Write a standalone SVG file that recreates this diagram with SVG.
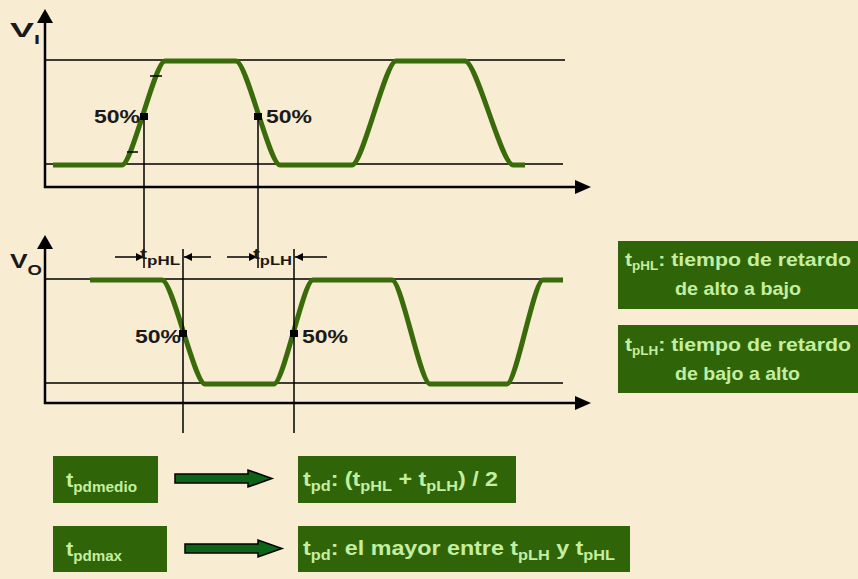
<svg xmlns="http://www.w3.org/2000/svg" width="858" height="579" viewBox="0 0 858 579">
<defs>
<style>
.bg{fill:#f8ecd2}
.ln{stroke:#000;stroke-width:1.5;fill:none}
.ax{stroke:#000;stroke-width:2.5;fill:none}
.wave{stroke:#3a6b0a;stroke-width:5;fill:none;stroke-linejoin:round}
.lbl{font-family:"Liberation Sans",Arial,sans-serif;font-weight:bold;fill:#1a1a1a}
.box{fill:#2f6508}
.bt{font-family:"Liberation Sans",Arial,sans-serif;font-weight:bold;fill:#c4eea0}
.mk{fill:#000}
.garrow{fill:#0c6416;stroke:#000;stroke-width:1.5}
</style>
<marker id="ah" viewBox="0 0 10 10" refX="10" refY="5" markerWidth="10" markerHeight="8" markerUnits="userSpaceOnUse" orient="auto">
<path d="M0,0 L10,5 L0,10 Z" fill="#000"/>
</marker>
</defs>
<rect class="bg" x="0" y="0" width="858" height="579"/>

<g id="input-axes">
<line class="ax" x1="45" y1="188" x2="45" y2="22"/>
<path d="M45,9 L53,23 L37,23 Z" fill="#000"/>
<line class="ax" x1="44" y1="187" x2="577" y2="187"/>
<path d="M591,187 L575,180 L575,194 Z" fill="#000"/>
<line class="ln" x1="45" y1="60" x2="565" y2="60"/>
<line class="ln" x1="45" y1="164" x2="563" y2="164"/>
<text class="lbl" x="10" y="37" font-size="20" textLength="30" lengthAdjust="spacingAndGlyphs">V<tspan font-size="12" dy="7">I</tspan></text>
</g>

<g id="input-wave">
<path class="wave" d="M53,165 L122,165 C132,165 155,61 165,61 L236,61 C246.5,61 269.5,165 280,165 L352,165 C362.5,165 385.5,61 396,61 L465,61 C476.5,61 501.5,165 513,165 L525,165"/>
<line class="ln" x1="150" y1="76" x2="162" y2="76"/>
<line class="ln" x1="127" y1="152" x2="138" y2="152"/>
<rect class="mk" x="140" y="113" width="8" height="7"/>
<rect class="mk" x="254" y="113" width="8" height="7"/>
<text class="lbl" x="94" y="123" font-size="19" textLength="46" lengthAdjust="spacingAndGlyphs">50%</text>
<text class="lbl" x="266" y="123" font-size="19" textLength="46" lengthAdjust="spacingAndGlyphs">50%</text>
</g>

<g id="output-axes">
<line class="ax" x1="45" y1="404" x2="45" y2="248"/>
<path d="M45,235 L53,249 L37,249 Z" fill="#000"/>
<line class="ax" x1="44" y1="403" x2="577" y2="403"/>
<path d="M591,403 L575,396 L575,410 Z" fill="#000"/>
<line class="ln" x1="45" y1="279" x2="563" y2="279"/>
<line class="ln" x1="45" y1="383" x2="563" y2="383"/>
<text class="lbl" x="10" y="268" font-size="20" textLength="32" lengthAdjust="spacingAndGlyphs">V<tspan font-size="14" dy="7">O</tspan></text>
</g>

<g id="output-wave">
<path class="wave" d="M90,280 L162,280 C172.5,280 194.5,384 205,384 L274,384 C283.5,384 303.5,280 313,280 L392,280 C401.5,280 420.5,384 430,384 L507,384 C516,384 534,280 543,280 L563,280"/>
<rect class="mk" x="179" y="330" width="8" height="7"/>
<rect class="mk" x="290" y="330" width="8" height="7"/>
<text class="lbl" x="135" y="343" font-size="19" textLength="46" lengthAdjust="spacingAndGlyphs">50%</text>
<text class="lbl" x="302" y="343" font-size="19" textLength="46" lengthAdjust="spacingAndGlyphs">50%</text>
</g>

<g id="connectors">
<line class="ln" x1="144" y1="117" x2="144" y2="268"/>
<line class="ln" x1="258" y1="117" x2="258" y2="268"/>
<line class="ln" x1="183" y1="249" x2="183" y2="433"/>
<line class="ln" x1="294" y1="249" x2="294" y2="433"/>
<line class="ln" x1="115" y1="257" x2="144" y2="257" marker-end="url(#ah)"/>
<line class="ln" x1="211" y1="257" x2="184" y2="257" marker-end="url(#ah)"/>
<line class="ln" x1="227" y1="257" x2="257" y2="257" marker-end="url(#ah)"/>
<line class="ln" x1="327" y1="257" x2="295" y2="257" marker-end="url(#ah)"/>
<path class="garrow" d="M175,474 L248,474 L248,470 L272,478.5 L248,487 L248,483 L175,483 Z"/>
<path class="garrow" d="M185,544 L258,544 L258,540 L282,548.5 L258,557 L258,553 L185,553 Z"/>
</g>

<g id="tphl-label">
<text class="lbl" x="140" y="259" font-size="15" textLength="40" lengthAdjust="spacingAndGlyphs">t<tspan font-size="12" dy="6">pHL</tspan></text>
</g>
<g id="tplh-label">
<text class="lbl" x="253" y="259" font-size="15" textLength="39" lengthAdjust="spacingAndGlyphs">t<tspan font-size="12" dy="6">pLH</tspan></text>
</g>

<g id="def-tphl">
<rect class="box" x="618" y="241" width="240" height="68"/>
<text class="bt" x="625" y="266" font-size="19" textLength="226" lengthAdjust="spacingAndGlyphs">t<tspan font-size="12" dy="4">pHL</tspan><tspan dy="-4">: tiempo de retardo</tspan></text>
<text class="bt" x="675" y="295" font-size="19" textLength="126" lengthAdjust="spacingAndGlyphs">de alto a bajo</text>
</g>

<g id="def-tplh">
<rect class="box" x="618" y="325" width="240" height="68"/>
<text class="bt" x="625" y="351" font-size="19" textLength="226" lengthAdjust="spacingAndGlyphs">t<tspan font-size="12" dy="4">pLH</tspan><tspan dy="-4">: tiempo de retardo</tspan></text>
<text class="bt" x="675" y="380" font-size="19" textLength="125" lengthAdjust="spacingAndGlyphs">de bajo a alto</text>
</g>

<g id="tpdmedio">
<rect class="box" x="53" y="456" width="105" height="47"/>
<text class="bt" x="66" y="487" font-size="20" textLength="71" lengthAdjust="spacingAndGlyphs">t<tspan font-size="14" dy="5">pdmedio</tspan></text>
</g>

<g id="tpdmax">
<rect class="box" x="53" y="526" width="114" height="46"/>
<text class="bt" x="66" y="556" font-size="20" textLength="56" lengthAdjust="spacingAndGlyphs">t<tspan font-size="14" dy="5">pdmax</tspan></text>
</g>

<g id="tpd-avg">
<rect class="box" x="298" y="456" width="218" height="47"/>
<text class="bt" x="303" y="486" font-size="20" textLength="195" lengthAdjust="spacingAndGlyphs">t<tspan font-size="14" dy="5">pd</tspan><tspan dy="-5">: (t</tspan><tspan font-size="14" dy="5">pHL</tspan><tspan dy="-5"> + t</tspan><tspan font-size="14" dy="5">pLH</tspan><tspan dy="-5">) / 2</tspan></text>
</g>

<g id="tpd-max">
<rect class="box" x="298" y="526" width="332" height="46"/>
<text class="bt" x="303" y="555" font-size="20" textLength="312" lengthAdjust="spacingAndGlyphs">t<tspan font-size="14" dy="5">pd</tspan><tspan dy="-5">: el mayor entre t</tspan><tspan font-size="14" dy="5">pLH</tspan><tspan dy="-5"> y t</tspan><tspan font-size="14" dy="5">pHL</tspan></text>
</g>
</svg>
